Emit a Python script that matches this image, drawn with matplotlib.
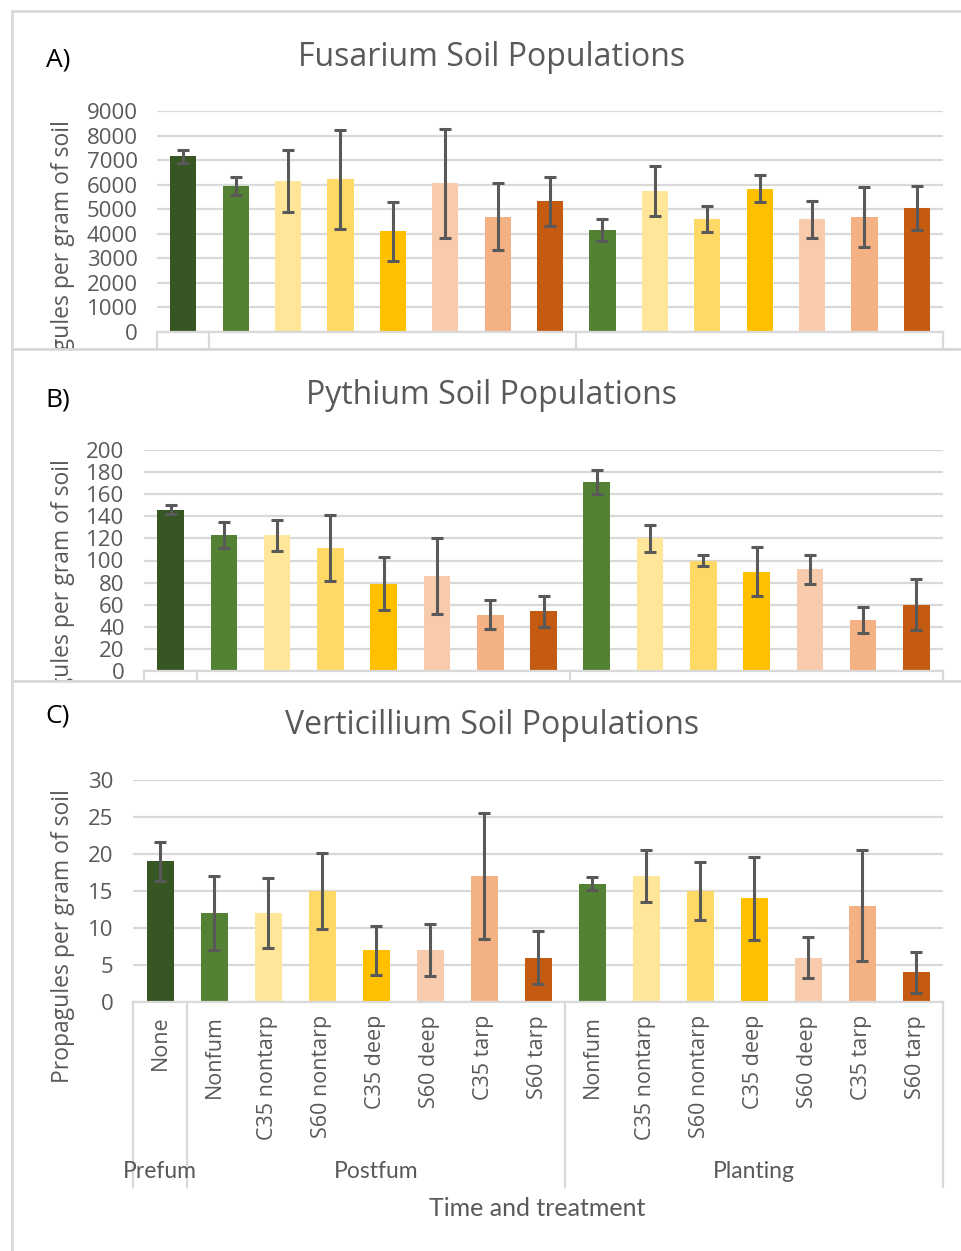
import matplotlib
matplotlib.use("Agg")
import matplotlib.pyplot as plt
import numpy as np

W, H = 961, 1251

# ---- data -------------------------------------------------------------
treatments = ["None", "Nonfum", "C35 nontarp", "S60 nontarp", "C35 deep",
              "S60 deep", "C35 tarp", "S60 tarp", "Nonfum", "C35 nontarp",
              "S60 nontarp", "C35 deep", "S60 deep", "C35 tarp", "S60 tarp"]
time_groups = ["Prefum", "Postfum", "Planting"]
group_sizes = [1, 7, 7]

fusarium = [7150, 5950, 6150, 6215, 4105, 6050, 4690, 5320,
            4160, 5740, 4585, 5830, 4585, 4690, 5060]
fusarium_err = [250, 370, 1250, 2030, 1200, 2220, 1370, 1000,
                440, 1000, 530, 550, 745, 1210, 900]

pythium = [146, 123, 123, 111, 79, 86, 51, 54,
           171, 120, 100, 90, 92, 46, 60]
pythium_err = [4, 12, 14, 30, 24, 34, 13, 14,
               11, 12, 5, 22, 13, 12, 23]

verticillium = [19, 12, 12, 15, 7, 7, 17, 6,
                16, 17, 15, 14, 6, 13, 4]
verticillium_err = [2.6, 5, 4.7, 5.1, 3.3, 3.5, 8.5, 3.6,
                    0.9, 3.5, 3.9, 5.6, 2.75, 7.5, 2.8]

bar_colors = ["#375623", "#548235", "#FFE699", "#FFD966", "#FFC000",
              "#F8CBAD", "#F4B183", "#C55A11",
              "#548235", "#FFE699", "#FFD966", "#FFC000",
              "#F8CBAD", "#F4B183", "#C55A11"]

GRID = "#d9d9d9"
TXT = "#595959"
FONT = ["Open Sans", "DejaVu Sans"]
NARROW = ["Lato", "DejaVu Sans"]

fig = plt.figure(figsize=(W / 100, H / 100), dpi=100)
fig.patch.set_facecolor("white")


def px_rect(l, t, r, b):
    return [l / W, 1 - b / H, (r - l) / W, (b - t) / H]


def fxy(x, y):
    return x / W, 1 - y / H


panels = [
    dict(letter="A)", title="Fusarium Soil Populations", values=fusarium,
         errs=fusarium_err, ymax=9000, step=1000,
         frame=(12, 11, 990, 349), plot=(157, 111, 943, 332),
         title_y=57, letter_y=60, labels=False),
    dict(letter="B)", title="Pythium Soil Populations", values=pythium,
         errs=pythium_err, ymax=200, step=20,
         frame=(12, 349, 990, 681), plot=(144, 450, 943, 671),
         title_y=396, letter_y=400, labels=False),
    dict(letter="C)", title="Verticillium Soil Populations",
         values=verticillium, errs=verticillium_err, ymax=30, step=5,
         frame=(12, 681, 990, 1300), plot=(133, 780, 943, 1002),
         title_y=725, letter_y=716, labels=True),
]

x = np.arange(len(treatments))
bounds = np.concatenate([[0], np.cumsum(group_sizes)]) - 0.5

for p in panels:
    # panel frame
    pax = fig.add_axes(px_rect(*p["frame"]), zorder=0)
    pax.set_xticks([])
    pax.set_yticks([])
    pax.set_facecolor("white")
    for s in pax.spines.values():
        s.set_color(GRID)
        s.set_linewidth(2)

    l, t, r, b = p["plot"]
    ax = fig.add_axes(px_rect(l, t, r, b), zorder=1)
    ax.set_facecolor("none")
    ax.bar(x, p["values"], width=0.5, color=bar_colors, zorder=2)
    ax.errorbar(x, p["values"], yerr=p["errs"], fmt="none",
                ecolor="#595959", elinewidth=2.2, capsize=4.5,
                capthick=2.2, zorder=3)
    ax.set_xlim(-0.5, len(treatments) - 0.5)
    ax.set_ylim(0, p["ymax"])
    ax.set_yticks(np.arange(0, p["ymax"] + p["step"] / 2, p["step"]))
    ax.yaxis.grid(True, color=GRID, linewidth=1.6, zorder=0)
    ax.set_axisbelow(True)
    ax.set_xticks([])
    ax.tick_params(axis="y", length=0, pad=14, labelsize=16,
                   labelcolor=TXT)
    for lab in ax.get_yticklabels():
        lab.set_fontfamily(FONT)
    for side in ("top", "right", "left"):
        ax.spines[side].set_visible(False)
    ax.spines["bottom"].set_color(GRID)
    ax.spines["bottom"].set_linewidth(1.6)

    # two-level category axis below the bars (cut off by the panel frame)
    plot_h = b - t
    depth = (1187 - 1002) / plot_h
    xt = ax.get_xaxis_transform()
    for bx in bounds:
        ln, = ax.plot([bx, bx], [0, -depth], color=GRID, lw=1.6,
                      transform=xt, clip_on=True)
        ln.set_clip_path(pax.patch)
    if p["labels"]:
        for i, name in enumerate(treatments):
            ax.text(i, -13 / plot_h, name, rotation=90, ha="center",
                    va="top", fontsize=15.5, color=TXT, family=FONT,
                    transform=xt)
        for g, name in enumerate(time_groups):
            cx = (bounds[g] + bounds[g + 1]) / 2
            ax.text(cx, -(1172 - 1002) / plot_h, name, ha="center",
                    va="center", fontsize=16.5, color=TXT, family=NARROW,
                    transform=xt)

    # value axis title (cut by the panel frame where it runs past it)
    yl = pax.text(*fxy(63, t + 156), "Propagules per gram of soil",
                  rotation=90, ha="center", va="center", fontsize=16.5,
                  color=TXT, family=FONT, transform=fig.transFigure,
                  clip_on=True)
    yl.set_clip_path(pax.patch)

    fig.text(*fxy(492, p["title_y"]), p["title"], ha="center",
             va="center", fontsize=23, color=TXT, family=FONT)
    fig.text(*fxy(58, p["letter_y"]), p["letter"], ha="center",
             va="center", fontsize=19, color="black", family=FONT)

fig.text(*fxy(537, 1208), "Time and treatment", ha="center", va="center",
         fontsize=18, color=TXT, family=NARROW)

fig.savefig("out.png", dpi=100)
